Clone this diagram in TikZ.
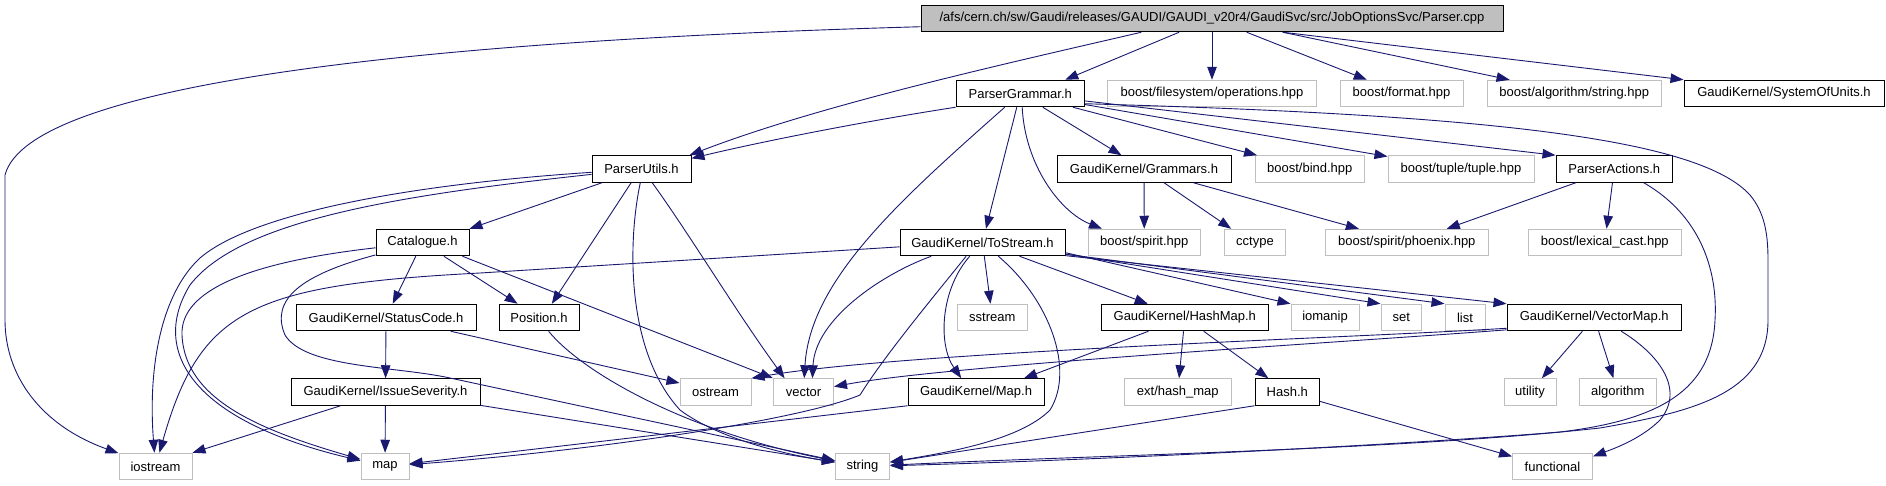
\documentclass[tikz,border=0pt]{standalone}
\usepackage{fontspec}
\setmainfont{Liberation Sans}
\usetikzlibrary{arrows.meta}
\definecolor{edgec}{HTML}{191970}
\definecolor{extgray}{HTML}{BFBFBF}
\begin{document}
\begin{tikzpicture}[x=1pt,y=-1pt,
  box/.style={rectangle, inner sep=0pt, minimum height=26.5pt, font=\fontsize{13}{15}\selectfont, line width=1pt},
  doc/.style={box, draw=black, fill=white},
  ext/.style={box, draw=extgray, fill=white},
  dep/.style={draw=edgec, line width=0.9pt, >={Triangle[length=13pt,width=9.5pt]}, ->},
]
\fill[white] (0,0) rectangle (1886,485);
\useasboundingbox (0,0) rectangle (1886,485);

% row 1
\node[doc, fill=extgray, minimum width=582pt] (main) at (1212,18.5) {/afs/cern.ch/sw/Gaudi/releases/GAUDI/GAUDI\_v20r4/GaudiSvc/src/JobOptionsSvc/Parser.cpp};
% row 2
\node[doc, minimum width=128.5pt] (pg) at (1020.25,93.5) {ParserGrammar.h};
\node[ext, minimum width=209pt] (bfs) at (1212,93.5) {boost/filesystem/operations.hpp};
\node[ext, minimum width=123pt] (bfmt) at (1401.5,93.5) {boost/format.hpp};
\node[ext, minimum width=174.5pt] (balg) at (1574.25,93.5) {boost/algorithm/string.hpp};
\node[doc, minimum width=200pt] (sou) at (1784,93.5) {GaudiKernel/SystemOfUnits.h};
% row 3
\node[doc, minimum width=99pt] (pu) at (641.5,169) {ParserUtils.h};
\node[doc, minimum width=174pt] (gram) at (1144,169) {GaudiKernel/Grammars.h};
\node[ext, minimum width=108.5pt] (bind) at (1309.75,169) {boost/bind.hpp};
\node[ext, minimum width=146pt] (tuple) at (1461,169) {boost/tuple/tuple.hpp};
\node[doc, minimum width=116.5pt] (pa) at (1614.25,169) {ParserActions.h};
% row 4
\node[doc, minimum width=93pt] (cat) at (422.5,242.5) {Catalogue.h};
\node[doc, minimum width=165pt] (ts) at (982.5,242.5) {GaudiKernel/ToStream.h};
\node[ext, minimum width=111.4pt] (spirit) at (1144.3,242.5) {boost/spirit.hpp};
\node[ext, minimum width=61pt] (cctype) at (1255,242.5) {cctype};
\node[ext, minimum width=162.4pt] (phx) at (1406.8,242.5) {boost/spirit/phoenix.hpp};
\node[ext, minimum width=153.5pt] (lex) at (1604.75,242.5) {boost/lexical\_cast.hpp};
% row 5
\node[doc, minimum width=180pt] (sc) at (386,317.5) {GaudiKernel/StatusCode.h};
\node[doc, minimum width=80pt] (pos) at (539,317.5) {Position.h};
\node[ext, minimum width=69.4pt] (sstream) at (992.3,317.5) {sstream};
\node[doc, minimum width=166.4pt] (hm) at (1184.8,317.5) {GaudiKernel/HashMap.h};
\node[ext, minimum width=68pt] (iomanip) at (1325,317.5) {iomanip};
\node[ext, minimum width=40.5pt] (set) at (1401.25,317.5) {set};
\node[ext, minimum width=40pt] (list) at (1465,317.5) {list};
\node[doc, minimum width=174.5pt] (vm) at (1594.25,317.5) {GaudiKernel/VectorMap.h};
% row 6
\node[doc, minimum width=189pt] (is) at (385.5,392) {GaudiKernel/IssueSeverity.h};
\node[ext, minimum width=71pt] (ostream) at (715.5,392) {ostream};
\node[ext, minimum width=60pt] (vector) at (803.5,392) {vector};
\node[doc, minimum width=136pt] (gmap) at (976,392) {GaudiKernel/Map.h};
\node[ext, minimum width=106.5pt] (ehm) at (1177.75,392) {ext/hash\_map};
\node[doc, minimum width=64.5pt] (hash) at (1287.25,392) {Hash.h};
\node[ext, minimum width=52pt] (utility) at (1530,392) {utility};
\node[ext, minimum width=76.5pt] (algorithm) at (1617.75,392) {algorithm};
% row 7
\node[ext, minimum width=73pt] (iostream) at (155.5,466.5) {iostream};
\node[ext, minimum width=48pt] (map) at (385,466.5) {map};
\node[ext, minimum width=54pt] (string) at (862.5,466.5) {string};
\node[ext, minimum width=80pt] (functional) at (1552.5,466.5) {functional};

% main
\draw[dep] (main) .. controls (450,40) and (30,80) .. (5,175) -- (5,320) .. controls (5,375) and (40,425) .. (iostream);
\draw[dep] (main.191.6) .. controls (1000,65) and (820,105) .. (pu.16);
\draw[dep] (main) -- (pg.17.4);
\draw[dep] (main) -- (bfs);
\draw[dep] (main) -- (bfmt);
\draw[dep] (main.-11.6) -- (balg.168.6);
\draw[dep] (main.-11.6) -- (sou.north west);
% ParserGrammar
\draw[dep] (pg.south west) .. controls (860,122) and (760,142) .. (pu.12.5);
\draw[dep] (pg) .. controls (900,200) and (810,280) .. (vector.87);
\draw[dep] (pg) -- (ts);
\draw[dep] (pg.-82) .. controls (1025,165) and (1060,212) .. (spirit.162);
\draw[dep] (pg) -- (gram);
\draw[dep] (pg) -- (bind);
\draw[dep] (pg) -- (tuple);
\draw[dep] (pg) -- (pa.north west);
\draw[dep] (pg.-9.2) .. controls (1500,115) and (1700,140) .. (1750,195) .. controls (1764,212) and (1768,232) .. (1768,260) -- (1768,320) .. controls (1768,395) and (1690,412) .. (1600,428) .. controls (1400,450) and (1100,455) .. (string);
% ParserUtils
\draw[dep] (pu) -- (cat.north east);
\draw[dep] (pu) .. controls (400,185) and (250,215) .. (200,258) .. controls (160,295) and (148,370) .. (iostream);
\draw[dep] (pu) .. controls (400,195) and (240,220) .. (190,285) .. controls (150,350) and (190,420) .. (map);
\draw[dep] (pu.233) -- (pos.47);
\draw[dep] (pu.-95) .. controls (628,240) and (625,350) .. (680,410) .. controls (720,440) and (790,455) .. (string);
\draw[dep] (pu.-52) .. controls (690,235) and (735,310) .. (vector.144);
% Catalogue
\draw[dep] (cat) -- (sc);
\draw[dep] (cat) -- (pos);
\draw[dep] (cat.-19) -- (vector.north west);
\draw[dep] (cat) .. controls (250,262) and (180,290) .. (182,335) .. controls (185,400) and (260,430) .. (map);
\draw[dep] (cat) .. controls (300,275) and (270,300) .. (285,335) .. controls (305,368) and (395,366) .. (450,378) -- (string);
% StatusCode, IssueSeverity, Position
\draw[dep] (sc) -- (is);
\draw[dep] (sc.-12.3) -- (ostream.166.5);
\draw[dep] (is.197.3) -- (iostream.north east);
\draw[dep] (is) -- (map);
\draw[dep] (is.-8.5) -- (string);
\draw[dep] (pos.-55.8) .. controls (580,370) and (680,430) .. (string);
% ToStream
\draw[dep] (ts.183) -- (480,273) .. controls (250,285) and (200,310) .. (iostream);
\draw[dep] (ts.195.3) .. controls (880,275) and (815,320) .. (vector.57);
\draw[dep] (ts.220.5) .. controls (935,295) and (885,355) .. (860,395) .. controls (800,420) and (600,450) .. (map);
\draw[dep] (ts.227) .. controls (940,290) and (938,345) .. (gmap.137);
\draw[dep] (ts) -- (sstream);
\draw[dep] (ts.-41) .. controls (1050,300) and (1075,370) .. (1050,410) .. controls (1020,440) and (950,452) .. (string);
\draw[dep] (ts) -- (hm);
\draw[dep] (ts.-7) -- (iomanip.north west);
\draw[dep] (ts.-8) -- (set.north west);
\draw[dep] (ts.-8.5) -- (list.north west);
\draw[dep] (ts.-9) -- (vm.north west);
% HashMap, Map, Hash
\draw[dep] (hm) -- (gmap.16.5);
\draw[dep] (hm) -- (ehm);
\draw[dep] (hm) -- (hash);
\draw[dep] (gmap.south west) -- (map);
\draw[dep] (hash.south west) -- (string);
\draw[dep] (hash.-16.6) -- (functional.166);
% VectorMap
\draw[dep] (vm.187) .. controls (1350,338) and (900,352) .. (ostream.north east);
\draw[dep] (vm.188) .. controls (1350,342) and (950,365) .. (vector.10);
\draw[dep] (vm) -- (utility);
\draw[dep] (vm) -- (algorithm);
\draw[dep] (vm.-27) .. controls (1660,355) and (1685,390) .. (1660,420) .. controls (1640,440) and (1610,450) .. (functional.14.7);
% Grammars
\draw[dep] (gram) -- (spirit);
\draw[dep] (gram) -- (cctype.150);
\draw[dep] (gram) -- (phx.164);
% ParserActions
\draw[dep] (pa) -- (phx.19.6);
\draw[dep] (pa) -- (lex);
\draw[dep] (pa.-25) .. controls (1700,215) and (1718,270) .. (1715,320) .. controls (1712,390) and (1660,420) .. (1560,432) .. controls (1400,445) and (1100,460) .. (string);
\end{tikzpicture}
\end{document}
